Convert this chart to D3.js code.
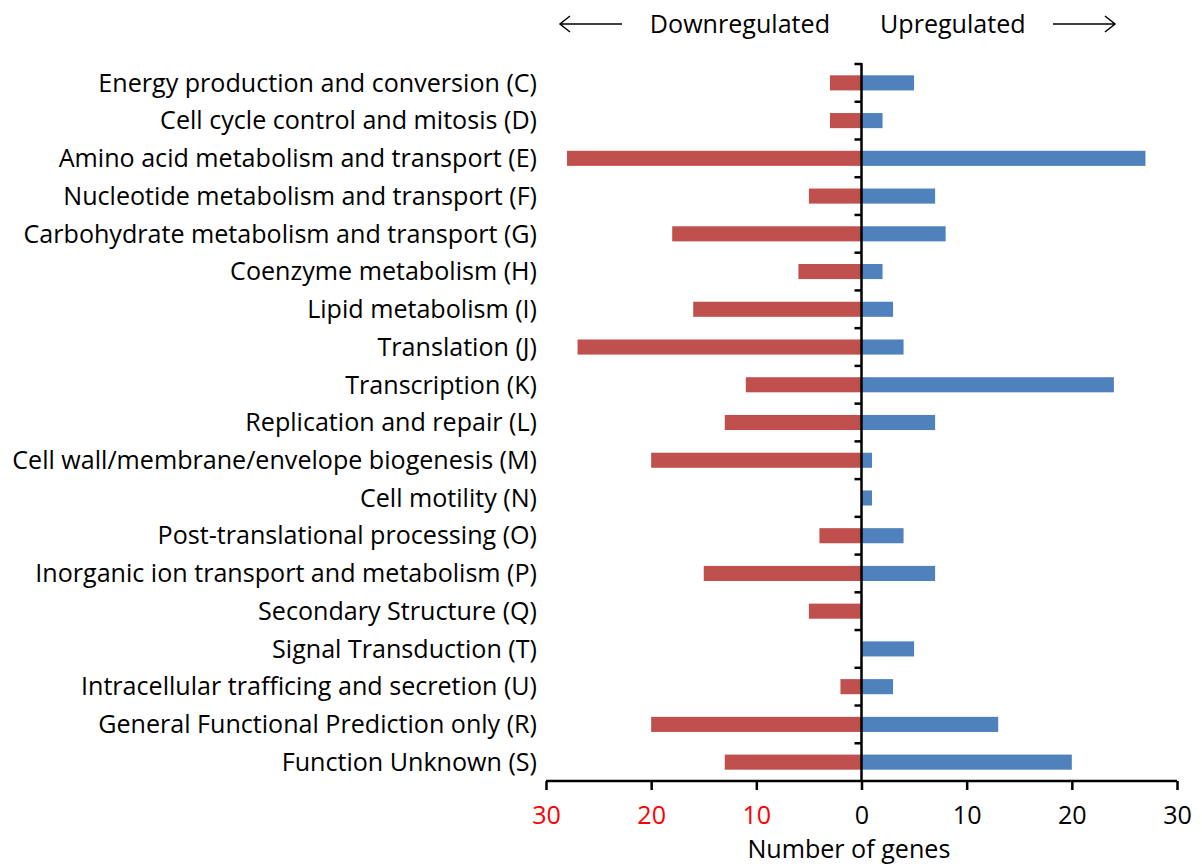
<!DOCTYPE html>
<html>
<head>
<meta charset="utf-8">
<script src="https://cdn.jsdelivr.net/npm/d3@7"></script>
<style>
  body { margin: 0; background: #fff; }
  text { font-family: "Open Sans", "Noto Sans", sans-serif; }
</style>
</head>
<body>
<svg id="chart" width="1202" height="868"></svg>
<script>
const categories = [
  'Energy production and conversion (C)',
  'Cell cycle control and mitosis (D)',
  'Amino acid metabolism and transport (E)',
  'Nucleotide metabolism and transport (F)',
  'Carbohydrate metabolism and transport (G)',
  'Coenzyme metabolism (H)',
  'Lipid metabolism (I)',
  'Translation (J)',
  'Transcription (K)',
  'Replication and repair (L)',
  'Cell wall/membrane/envelope biogenesis (M)',
  'Cell motility (N)',
  'Post-translational processing (O)',
  'Inorganic ion transport and metabolism (P)',
  'Secondary Structure (Q)',
  'Signal Transduction (T)',
  'Intracellular trafficing and secretion (U)',
  'General Functional Prediction only (R)',
  'Function Unknown (S)'
];
const downregulated = [3, 3, 28, 5, 18, 6, 16, 27, 11, 13, 20, 0, 4, 15, 5, 0, 2, 20, 13];
const upregulated = [5, 2, 27, 7, 8, 2, 3, 4, 24, 7, 1, 1, 4, 7, 0, 5, 3, 13, 20];
const xTicks = [-30, -20, -10, 0, 10, 20, 30];

const svg = d3.select('#chart');
const plotLeft = 546, plotRight = 1177, plotTop = 64, plotBottom = 781;

const x = d3.scaleLinear().domain([-30, 30]).range([plotLeft, plotRight]);
const y = d3.scaleBand().domain(categories).range([plotTop, plotBottom]).paddingInner(0.6).paddingOuter(0.3);
const yb = d3.scaleBand().domain(categories).range([plotTop, plotBottom]);

// bars
svg.append('g').selectAll('rect').data(categories).enter()
  .append('rect')
  .attr('x', (d, i) => x(-downregulated[i]))
  .attr('y', (d) => y(d))
  .attr('width', (d, i) => x(0) - x(-downregulated[i]))
  .attr('height', y.bandwidth())
  .attr('fill', '#C0504D');

svg.append('g').selectAll('rect').data(categories).enter()
  .append('rect')
  .attr('x', x(0))
  .attr('y', (d) => y(d))
  .attr('width', (d, i) => x(upregulated[i]) - x(0))
  .attr('height', y.bandwidth())
  .attr('fill', '#4F81BD');

// vertical axis with category ticks on the left
const vAxis = svg.append('g');
vAxis.append('line')
  .attr('x1', x(0)).attr('x2', x(0))
  .attr('y1', plotTop - 1).attr('y2', plotBottom)
  .attr('stroke', '#000').attr('stroke-width', 2.5);
vAxis.selectAll('line.tk').data(categories).enter()
  .append('line').attr('class', 'tk')
  .attr('x1', x(0) - 7).attr('x2', x(0))
  .attr('y1', (d) => yb(d)).attr('y2', (d) => yb(d))
  .attr('stroke', '#000').attr('stroke-width', 2.5);

// category labels
const labels = svg.append('g').selectAll('text').data(categories).enter()
  .append('text')
  .attr('x', 537)
  .attr('y', (d) => yb(d) + yb.bandwidth() / 2)
  .attr('dy', '0.35em')
  .attr('text-anchor', 'end')
  .attr('fill', '#000')
  .style('font-size', '20px')
  .text((d) => d);

// fit font so the longest label spans like the reference (~525px)
let maxW = 0;
labels.each(function () { maxW = Math.max(maxW, this.getComputedTextLength()); });
const fs = 20 * 525 / maxW;
labels.style('font-size', fs + 'px');

// bottom axis
const xAxis = d3.axisBottom(x)
  .tickValues(xTicks)
  .tickSize(9)
  .tickPadding(16)
  .tickFormat((d) => Math.abs(d));
const gx = svg.append('g').attr('transform', `translate(0,${plotBottom})`).call(xAxis);
gx.select('.domain').attr('stroke', '#000').attr('stroke-width', 2.5)
  .attr('d', `M${plotLeft},0H${plotRight}`);
gx.selectAll('.tick line').attr('stroke', '#000').attr('stroke-width', 2.5);
gx.selectAll('.tick text')
  .style('font-family', '"Open Sans", "Noto Sans", sans-serif')
  .style('font-size', fs + 'px')
  .style('fill', (d) => (d < 0 ? '#FF0000' : '#000'));

svg.append('text')
  .attr('x', x(-1.2))
  .attr('y', 858)
  .attr('text-anchor', 'middle')
  .attr('fill', '#000')
  .style('font-size', fs + 'px')
  .text('Number of genes');

// direction annotations
const arrowY = 24;
const annot = svg.append('g');
annot.append('text')
  .attr('x', 830).attr('y', arrowY).attr('dy', '0.35em')
  .attr('text-anchor', 'end')
  .attr('fill', '#000')
  .style('font-size', fs + 'px')
  .text('Downregulated');
annot.append('text')
  .attr('x', 880).attr('y', arrowY).attr('dy', '0.35em')
  .attr('text-anchor', 'start')
  .attr('fill', '#000')
  .style('font-size', fs + 'px')
  .text('Upregulated');

function arrow(x1, x2) {
  const dir = x2 > x1 ? -1 : 1;
  annot.append('path')
    .attr('d', `M${x1},${arrowY}H${x2}M${x2 + dir * 10},${arrowY - 8}L${x2},${arrowY}L${x2 + dir * 10},${arrowY + 8}`)
    .attr('fill', 'none').attr('stroke', '#000').attr('stroke-width', 1.5);
}
arrow(622, 560);
arrow(1053, 1115);
</script>
</body>
</html>
